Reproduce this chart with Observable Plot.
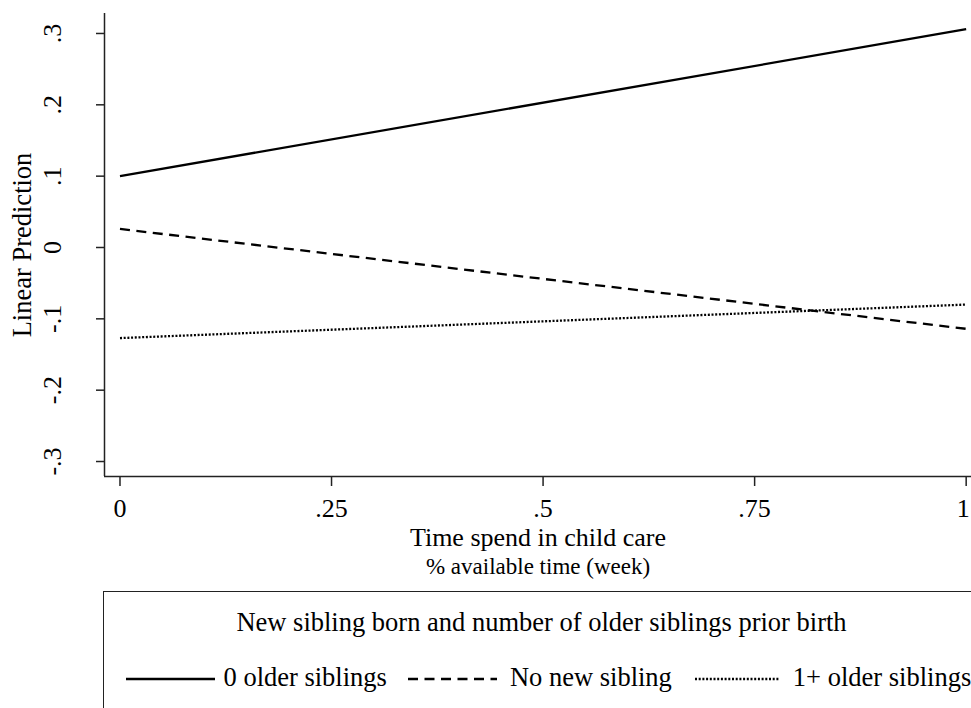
<!DOCTYPE html>
<html>
<head>
<meta charset="utf-8">
<script src="https://cdn.jsdelivr.net/npm/d3@7"></script>
<script src="https://cdn.jsdelivr.net/npm/@observablehq/plot@0.6"></script>
<style>
  body { margin: 0; background: #fff; font-family: "Liberation Serif", "Times New Roman", serif; color: #000; }
  #wrap { position: relative; width: 971px; height: 708px; overflow: hidden; }
  #chart svg { display: block; }
  #legend { position: absolute; left: 103px; top: 591px; width: 877px; height: 140px;
            border: 1.5px solid #222; box-sizing: border-box; }
  #legend .ltitle { position: absolute; left: 0; right: 0; top: 14.5px; text-align: center;
                    font-size: 26.5px; line-height: 30px; white-space: nowrap; }
  #legend .lrow { position: absolute; left: 21.5px; top: 69.5px; display: flex;
                  font-size: 26.5px; line-height: 30px; white-space: nowrap; }
  #legend .item { display: flex; align-items: flex-start; }
  #legend .item svg { display: block; }
</style>
</head>
<body>
<div id="wrap">
  <div id="chart"></div>
  <div id="legend"></div>
</div>
<script>
// Predicted values at the two ends of the child-care share
const careShare = [0, 1];
const groups = ["0 older siblings", "No new sibling", "1+ older siblings"];
const pred0Older = [0.100, 0.306];
const predNoNew = [0.026, -0.114];
const pred1Plus = [-0.127, -0.080];

// Axis ticks and labels
const xTicks = [0, 0.25, 0.5, 0.75, 1];
const xTickLabels = ["0", ".25", ".5", ".75", "1"];
const yTicks = [-0.3, -0.2, -0.1, 0, 0.1, 0.2, 0.3];
const yTickLabels = ["-.3", "-.2", "-.1", "0", ".1", ".2", ".3"];
const xDomain = [-0.0183, 1.0063];
const yDomain = [-0.321, 0.328];

const yTitle = "Linear Prediction";
const xTitle = "Time spend in child care";
const xSubtitle = "% available time (week)";
const legendTitle = "New sibling born and number of older siblings prior birth";

// Line styles per group
const dashes = ["none", "10,6.5", "2,1.7"];
// Legend key geometry: key length, gap to its label, space before the next key
const keyWidths = [89, 89, 84];
const keyGaps = [9, 13, 14];
const itemSpacing = [0, 21, 23];

const seriesValues = [pred0Older, predNoNew, pred1Plus];
const rows = groups.map((g, gi) => careShare.map((x, i) => ({group: g, x, y: seriesValues[gi][i]})));

const xLabel = d => xTickLabels[xTicks.indexOf(d)];
const lastTick = xTicks[xTicks.length - 1];

const chart = Plot.plot({
  width: 971,
  height: 590,
  marginLeft: 104,
  marginRight: 0,
  marginTop: 13,
  marginBottom: 114,
  style: {fontFamily: "Liberation Serif, Times New Roman, serif", fontSize: "26px", background: "#fff", color: "#000"},
  x: {domain: xDomain},
  y: {domain: yDomain},
  marks: [
    Plot.ruleX([xDomain[0]], {stroke: "#222", strokeWidth: 1.5}),
    Plot.ruleY([yDomain[0]], {stroke: "#222", strokeWidth: 1.5}),
    // tick marks with labels for all but the rightmost tick
    Plot.axisX({
      ticks: xTicks, tickFormat: d => (d === lastTick ? "" : xLabel(d)),
      tickSize: 10, tickPadding: 12, fontSize: 26, strokeWidth: 1.5, stroke: "#222", label: null
    }),
    // rightmost label nudged inward so it stays inside the page edge
    Plot.axisX({
      ticks: [lastTick], tickFormat: xLabel,
      tickSize: 0, tickPadding: 22, dx: -3, fontSize: 26, label: null
    }),
    Plot.axisY({
      ticks: yTicks, tickFormat: d => yTickLabels[yTicks.indexOf(d)],
      tickSize: 8, tickPadding: 36, tickRotate: -90, fontSize: 26, strokeWidth: 1.5, stroke: "#222", label: null
    }),
    ...rows.map((data, i) => Plot.line(data, {
      x: "x", y: "y", stroke: "#000", strokeWidth: 2.3,
      strokeDasharray: dashes[i], strokeLinecap: "butt"
    })),
    Plot.text([yTitle], {text: d => d, frameAnchor: "left", dx: -74, rotate: -90,
      textAnchor: "middle", lineAnchor: "bottom", fontSize: 26.5, fill: "#000"}),
    Plot.text([xTitle], {text: d => d, frameAnchor: "bottom", dy: 69,
      textAnchor: "middle", lineAnchor: "bottom", fontSize: 26, fill: "#000"}),
    Plot.text([xSubtitle], {text: d => d, frameAnchor: "bottom", dy: 97,
      textAnchor: "middle", lineAnchor: "bottom", fontSize: 23, fill: "#000"})
  ]
});
document.getElementById("chart").appendChild(chart);

// Legend box below the plot
const legend = d3.select("#legend");
legend.append("div").attr("class", "ltitle").text(legendTitle);
const row = legend.append("div").attr("class", "lrow");
groups.forEach((g, i) => {
  const item = row.append("div").attr("class", "item").style("margin-left", itemSpacing[i] + "px");
  const key = item.append("svg").attr("width", keyWidths[i]).attr("height", 30)
    .style("margin-right", keyGaps[i] + "px");
  key.append("line")
    .attr("x1", 0).attr("x2", keyWidths[i]).attr("y1", 17).attr("y2", 17)
    .attr("stroke", "#000").attr("stroke-width", 2.3)
    .attr("stroke-dasharray", dashes[i] === "none" ? null : dashes[i]);
  item.append("span").text(g);
});
</script>
</body>
</html>
